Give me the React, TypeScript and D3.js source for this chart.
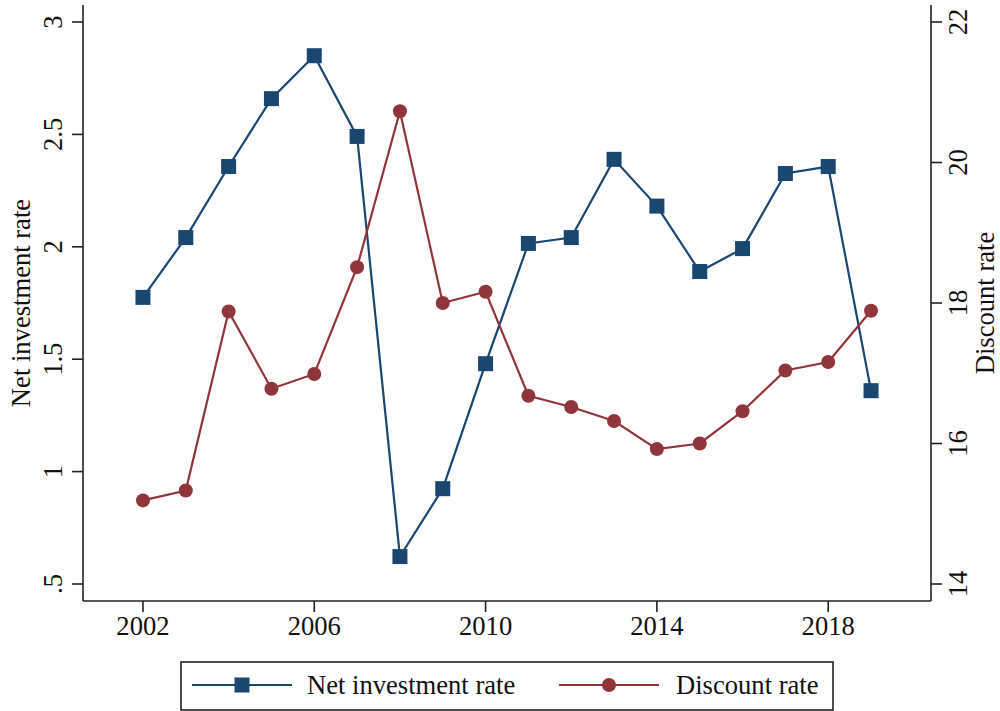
import React from "react";
import * as d3 from "d3";

const years = [2002, 2003, 2004, 2005, 2006, 2007, 2008, 2009, 2010, 2011, 2012, 2013, 2014, 2015, 2016, 2017, 2018, 2019];
const netInvestment = [1.775, 2.041, 2.357, 2.659, 2.85, 2.491, 0.622, 0.924, 1.48, 2.015, 2.041, 2.389, 2.181, 1.89, 1.992, 2.326, 2.357, 1.36];
const discountRate = [15.19, 15.33, 17.88, 16.78, 16.99, 18.51, 20.73, 18.0, 18.16, 16.68, 16.52, 16.32, 15.92, 16.0, 16.46, 17.04, 17.16, 17.89];
const xTicks = [2002, 2006, 2010, 2014, 2018];
const leftTicks = [0.5, 1, 1.5, 2, 2.5, 3];
const leftTickLabels = [".5", "1", "1.5", "2", "2.5", "3"];
const rightTicks = [14, 16, 18, 20, 22];

const NAVY = "#1a476f";
const MAROON = "#90353b";
const FONT = "'Liberation Serif', 'Times New Roman', serif";
const FS = 26.6;

export default function App() {
  const left = 83, right = 931, top = 5, bottom = 601;
  const x = d3.scaleLinear().domain([2000.6, 2020.4]).range([left, right]);
  const yL = d3.scaleLinear().domain([0.5, 3]).range([584, 22]);
  const yR = d3.scaleLinear().domain([14, 22]).range([584, 22]);

  const lineL = d3.line<number>().x((_, i) => x(years[i])).y((d) => yL(d));
  const lineR = d3.line<number>().x((_, i) => x(years[i])).y((d) => yR(d));

  const sq = 15;
  const r = 7;

  return (
    <svg width={1000} height={711} style={{ position: "absolute", left: 0, top: 0, background: "#fff" }} fontFamily={FONT}>
      <rect x={0} y={0} width={1000} height={711} fill="#fff" />
      {/* axes */}
      <line x1={left} y1={top} x2={left} y2={bottom} stroke="#222" strokeWidth={1.6} />
      <line x1={right} y1={top} x2={right} y2={bottom} stroke="#222" strokeWidth={1.6} />
      <line x1={left} y1={bottom} x2={right} y2={bottom} stroke="#222" strokeWidth={1.6} />

      {leftTicks.map((t, i) => (
        <g key={"l" + t}>
          <line x1={left - 11} x2={left} y1={yL(t)} y2={yL(t)} stroke="#222" strokeWidth={1.6} />
          <text transform={`translate(62,${yL(t)}) rotate(-90)`} textAnchor="middle" fontSize={FS} fill="#111">
            {leftTickLabels[i]}
          </text>
        </g>
      ))}
      {rightTicks.map((t) => (
        <g key={"r" + t}>
          <line x1={right} x2={right + 11} y1={yR(t)} y2={yR(t)} stroke="#222" strokeWidth={1.6} />
          <text transform={`translate(967,${yR(t)}) rotate(-90)`} textAnchor="middle" fontSize={FS} fill="#111">
            {t}
          </text>
        </g>
      ))}
      {xTicks.map((t) => (
        <g key={"x" + t}>
          <line x1={x(t)} x2={x(t)} y1={bottom} y2={bottom + 11} stroke="#222" strokeWidth={1.6} />
          <text x={x(t)} y={635} textAnchor="middle" fontSize={FS} fill="#111">
            {t}
          </text>
        </g>
      ))}

      <text transform={`translate(30,${(top + bottom) / 2}) rotate(-90)`} textAnchor="middle" fontSize={FS} fill="#111">
        Net investment rate
      </text>
      <text transform={`translate(994,${(top + bottom) / 2}) rotate(-90)`} textAnchor="middle" fontSize={FS} fill="#111">
        Discount rate
      </text>

      {/* series */}
      <path d={lineL(netInvestment) || ""} fill="none" stroke={NAVY} strokeWidth={2.2} />
      <path d={lineR(discountRate) || ""} fill="none" stroke={MAROON} strokeWidth={2.2} />
      {netInvestment.map((v, i) => (
        <rect key={"s" + i} x={x(years[i]) - sq / 2} y={yL(v) - sq / 2} width={sq} height={sq} fill={NAVY} />
      ))}
      {discountRate.map((v, i) => (
        <circle key={"c" + i} cx={x(years[i])} cy={yR(v)} r={r} fill={MAROON} />
      ))}

      {/* legend */}
      <rect x={181} y={662} width={652} height={48} fill="#fff" stroke="#222" strokeWidth={1.6} />
      <line x1={192} x2={292} y1={685} y2={685} stroke={NAVY} strokeWidth={2.2} />
      <rect x={242 - sq / 2} y={685 - sq / 2} width={sq} height={sq} fill={NAVY} />
      <text x={307} y={694} fontSize={FS} fill="#111">Net investment rate</text>
      <line x1={559} x2={659} y1={685} y2={685} stroke={MAROON} strokeWidth={2.2} />
      <circle cx={609} cy={685} r={r} fill={MAROON} />
      <text x={676} y={694} fontSize={FS} fill="#111">Discount rate</text>
    </svg>
  );
}
